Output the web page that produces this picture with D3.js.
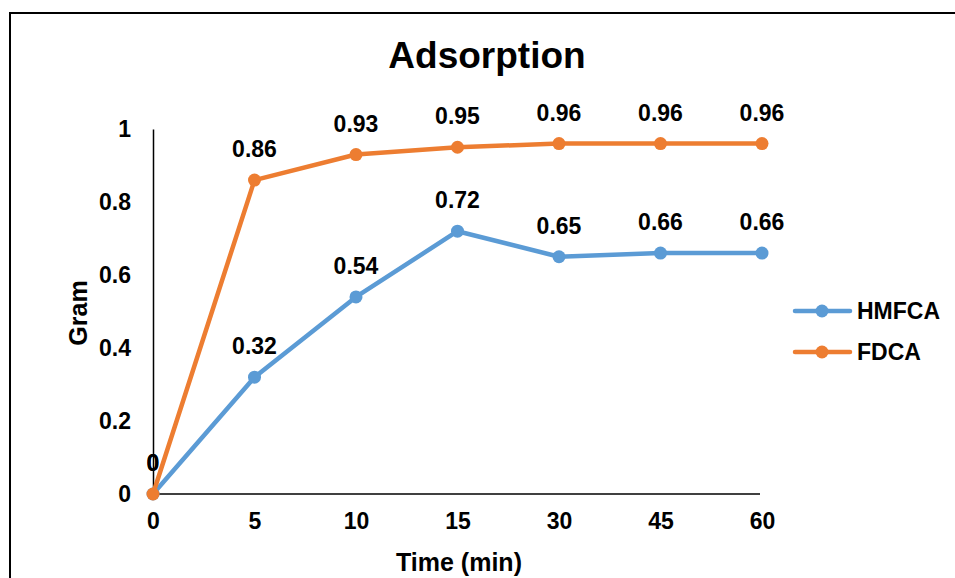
<!DOCTYPE html>
<html>
<head>
<meta charset="utf-8">
<script src="https://cdn.jsdelivr.net/npm/d3@7"></script>
<style>
  html, body { margin: 0; padding: 0; background: #fff; }
  svg { display: block; font-family: "Liberation Sans", Arial, sans-serif; font-weight: bold; }
</style>
</head>
<body>
<svg id="chart" width="955" height="578"></svg>
<script>
const categories = ["0", "5", "10", "15", "30", "45", "60"];
const hmfca = [0, 0.32, 0.54, 0.72, 0.65, 0.66, 0.66];
const fdca = [0, 0.86, 0.93, 0.95, 0.96, 0.96, 0.96];
const yTicks = [0, 0.2, 0.4, 0.6, 0.8, 1];
const seriesNames = ["HMFCA", "FDCA"];
const seriesColors = ["#5B9BD5", "#ED7D31"];

const svg = d3.select("#chart");

// outer border (left + top)
svg.append("path")
  .attr("d", "M10,580 L10,13 L960,13")
  .attr("fill", "none").attr("stroke", "#000").attr("stroke-width", 2);

const x = d3.scalePoint().domain(categories).range([153, 762]).padding(0);
const y = d3.scaleLinear().domain([0, 1]).range([494, 129]);

// title
svg.append("text").attr("x", 487).attr("y", 55)
  .attr("text-anchor", "middle").attr("dominant-baseline", "central")
  .attr("font-size", 37).text("Adsorption");

// y axis
const yAxis = d3.axisLeft(y).tickValues(yTicks).tickSize(0).tickPadding(22)
  .tickFormat(d => d3.format("~g")(d));
const gy = svg.append("g").attr("transform", "translate(153,0)").call(yAxis);
gy.select(".domain").attr("stroke", "#000").attr("stroke-width", 1.5);
gy.selectAll("text").attr("font-size", 23).attr("font-family", "Liberation Sans, Arial, sans-serif")
  .attr("font-weight", "bold").attr("fill", "#000");

// x axis
const xAxis = d3.axisBottom(x).tickSize(0).tickPadding(19);
const gx = svg.append("g").attr("transform", "translate(0,494)").call(xAxis);
gx.select(".domain").attr("stroke", "#000").attr("stroke-width", 1.5).attr("d", "M153,0H760");
gx.selectAll("text").attr("font-size", 23).attr("font-family", "Liberation Sans, Arial, sans-serif")
  .attr("font-weight", "bold").attr("fill", "#000");

// axis titles
svg.append("text").attr("transform", "translate(78,313) rotate(-90)")
  .attr("text-anchor", "middle").attr("dominant-baseline", "central")
  .attr("font-size", 25).text("Gram");
svg.append("text").attr("x", 459).attr("y", 562)
  .attr("text-anchor", "middle").attr("dominant-baseline", "central")
  .attr("font-size", 25).text("Time (min)");

const line = d3.line().x((d, i) => x(categories[i])).y(d => y(d));
const data = [hmfca, fdca];

data.forEach((vals, si) => {
  const g = svg.append("g");
  g.append("path").datum(vals).attr("d", line)
    .attr("fill", "none").attr("stroke", seriesColors[si]).attr("stroke-width", 4.5)
    .attr("stroke-linejoin", "round").attr("stroke-linecap", "round");
  g.selectAll("circle").data(vals).join("circle")
    .attr("cx", (d, i) => x(categories[i])).attr("cy", d => y(d))
    .attr("r", 6.5).attr("fill", seriesColors[si]);
});

// data labels
data.forEach((vals, si) => {
  svg.append("g").selectAll("text").data(vals).join("text")
    .attr("x", (d, i) => x(categories[i])).attr("y", d => y(d) - 31)
    .attr("text-anchor", "middle").attr("dominant-baseline", "central")
    .attr("font-size", 23).attr("fill", "#000")
    .text(d => d3.format("~g")(d));
});

// legend
seriesNames.forEach((name, i) => {
  const ly = 311 + i * 41;
  const g = svg.append("g");
  g.append("line").attr("x1", 795).attr("x2", 850).attr("y1", ly).attr("y2", ly)
    .attr("stroke", seriesColors[i]).attr("stroke-width", 4.5).attr("stroke-linecap", "round");
  g.append("circle").attr("cx", 822).attr("cy", ly).attr("r", 6.5).attr("fill", seriesColors[i]);
  g.append("text").attr("x", 857).attr("y", ly).attr("dominant-baseline", "central")
    .attr("font-size", 23).attr("fill", "#000").text(name);
});
</script>
</body>
</html>
